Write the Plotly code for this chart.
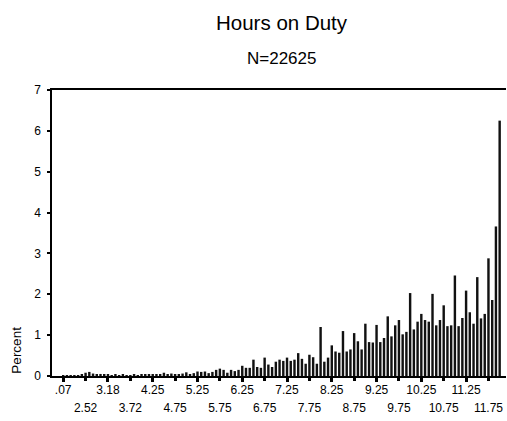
import plotly.graph_objects as go

# hours on duty categories (one bar per observed value)
hours = [
    ".07", ".50", "1.00", "1.50", "2.00", "2.25", "2.52", "2.58", "2.67", "2.75", "2.83", "3.00",
    "3.18", "3.25", "3.33", "3.42", "3.50", "3.58", "3.72", "3.75", "3.83", "3.92", "4.00", "4.08",
    "4.25", "4.33", "4.42", "4.50", "4.58", "4.67", "4.75", "4.83", "4.92",
    "5.00", "5.08", "5.17", "5.25", "5.33", "5.42", "5.50", "5.58", "5.67", "5.75", "5.83", "5.92",
    "6.00", "6.08", "6.17", "6.25", "6.33", "6.42", "6.50", "6.58", "6.67", "6.75", "6.83", "6.92",
    "7.00", "7.08", "7.17", "7.25", "7.33", "7.42", "7.50", "7.58", "7.67", "7.75", "7.83", "7.92",
    "8.00", "8.08", "8.17", "8.25", "8.33", "8.42", "8.50", "8.58", "8.67", "8.75", "8.83", "8.92",
    "9.00", "9.08", "9.17", "9.25", "9.33", "9.42", "9.50", "9.58", "9.67", "9.75", "9.83", "9.92",
    "10.00", "10.08", "10.17", "10.25", "10.33", "10.42", "10.50", "10.58", "10.67", "10.75", "10.83", "10.92",
    "11.00", "11.08", "11.17", "11.25", "11.33", "11.42", "11.50", "11.58", "11.67", "11.75", "11.83", "11.92",
    "12.00",
]

percent = [
    0.01, 0.01, 0.01, 0.01, 0.02, 0.03, 0.08, 0.10, 0.06, 0.04, 0.05, 0.03,
    0.03, 0.02, 0.03, 0.02, 0.03, 0.02, 0.02, 0.03, 0.02, 0.03, 0.04, 0.03,
    0.03, 0.03, 0.04, 0.08, 0.04, 0.06, 0.03, 0.04, 0.06, 0.09, 0.04, 0.07,
    0.11, 0.10, 0.11, 0.07, 0.10, 0.15, 0.18, 0.15, 0.08, 0.15, 0.12, 0.15,
    0.25, 0.20, 0.20, 0.40, 0.22, 0.20, 0.45, 0.28, 0.22, 0.35, 0.40, 0.37,
    0.45, 0.37, 0.40, 0.56, 0.42, 0.30, 0.52, 0.46, 0.30, 1.20, 0.35, 0.45,
    0.75, 0.60, 0.57, 1.10, 0.60, 0.65, 1.05, 0.85, 0.65, 1.28, 0.83, 0.82,
    1.25, 0.83, 0.93, 1.46, 0.97, 1.24, 1.37, 1.02, 1.08, 2.03, 1.14, 1.33,
    1.52, 1.37, 1.33, 2.01, 1.24, 1.37, 1.73, 1.22, 1.24, 2.46, 1.22, 1.42,
    2.09, 1.56, 1.28, 2.42, 1.41, 1.52, 2.88, 1.86, 3.66, 6.25,
]

# staggered tick labels: upper row and lower row
ticks_upper = [".07", "3.18", "4.25", "5.25", "6.25", "7.25", "8.25", "9.25", "10.25", "11.25"]
ticks_lower = ["2.52", "3.72", "4.75", "5.75", "6.75", "7.75", "8.75", "9.75", "10.75", "11.75"]

font = "Liberation Sans, Arial, sans-serif"
xrange = [-3.0, 118.7]

fig = go.Figure()
fig.add_trace(go.Bar(x=hours, y=percent, marker_color="#111111", marker_line_width=0))
# invisible copy so the second (lower label row) axis knows the categories
fig.add_trace(go.Scatter(x=hours, y=percent, xaxis="x2", mode="markers",
                         marker={"size": 1, "opacity": 0}, hoverinfo="skip"))

fig.update_layout(
    width=507, height=421,
    margin={"l": 52, "r": 1, "t": 90, "b": 45, "autoexpand": False},
    paper_bgcolor="white", plot_bgcolor="white",
    showlegend=False, bargap=0.35,
    font={"family": font, "color": "black"},
    xaxis={
        "type": "category", "categoryorder": "array", "categoryarray": hours,
        "range": xrange, "showgrid": False, "zeroline": False, "automargin": False,
        "showline": True, "linecolor": "black", "linewidth": 1.5, "mirror": True,
        "ticks": "outside", "ticklen": 4, "tickwidth": 3, "tickcolor": "black",
        "tickmode": "array", "tickvals": ticks_upper, "ticktext": ticks_upper,
        "tickangle": 0, "tickfont": {"size": 12}, "ticklabelstandoff": -2,
    },
    xaxis2={
        "type": "category", "categoryorder": "array", "categoryarray": hours,
        "range": xrange, "overlaying": "x", "anchor": "y", "side": "bottom",
        "showgrid": False, "zeroline": False, "showline": False, "automargin": False,
        "ticks": "outside", "ticklen": 4, "tickwidth": 3, "tickcolor": "black",
        "tickmode": "array", "tickvals": ticks_lower, "ticktext": ticks_lower,
        "tickangle": 0, "tickfont": {"size": 12}, "ticklabelstandoff": 17,
    },
    yaxis={
        "range": [0, 7], "dtick": 1, "showgrid": False, "zeroline": False,
        "showline": True, "linecolor": "black", "linewidth": 1.5, "automargin": False,
        "ticks": "outside", "ticklen": 3, "tickwidth": 2, "tickcolor": "black",
        "tickfont": {"size": 12}, "ticklabelstandoff": 4,
    },
    annotations=[
        {"text": "Hours on Duty", "xref": "paper", "yref": "paper", "x": 0.506, "y": 1.237,
         "xanchor": "center", "yanchor": "middle", "showarrow": False,
         "font": {"size": 20.5}},
        {"text": "N=22625", "xref": "paper", "yref": "paper", "x": 0.506, "y": 1.1,
         "xanchor": "center", "yanchor": "middle", "showarrow": False,
         "font": {"size": 17}, "yshift": 3},
        {"text": "Percent", "xref": "paper", "yref": "y", "x": -0.079, "y": 0,
         "xanchor": "center", "yanchor": "bottom", "textangle": -90,
         "showarrow": False, "font": {"size": 13.5}},
    ],
)

fig.write_html("out.html", config={"displayModeBar": False},
               post_script="document.body.style.margin = '0';")
